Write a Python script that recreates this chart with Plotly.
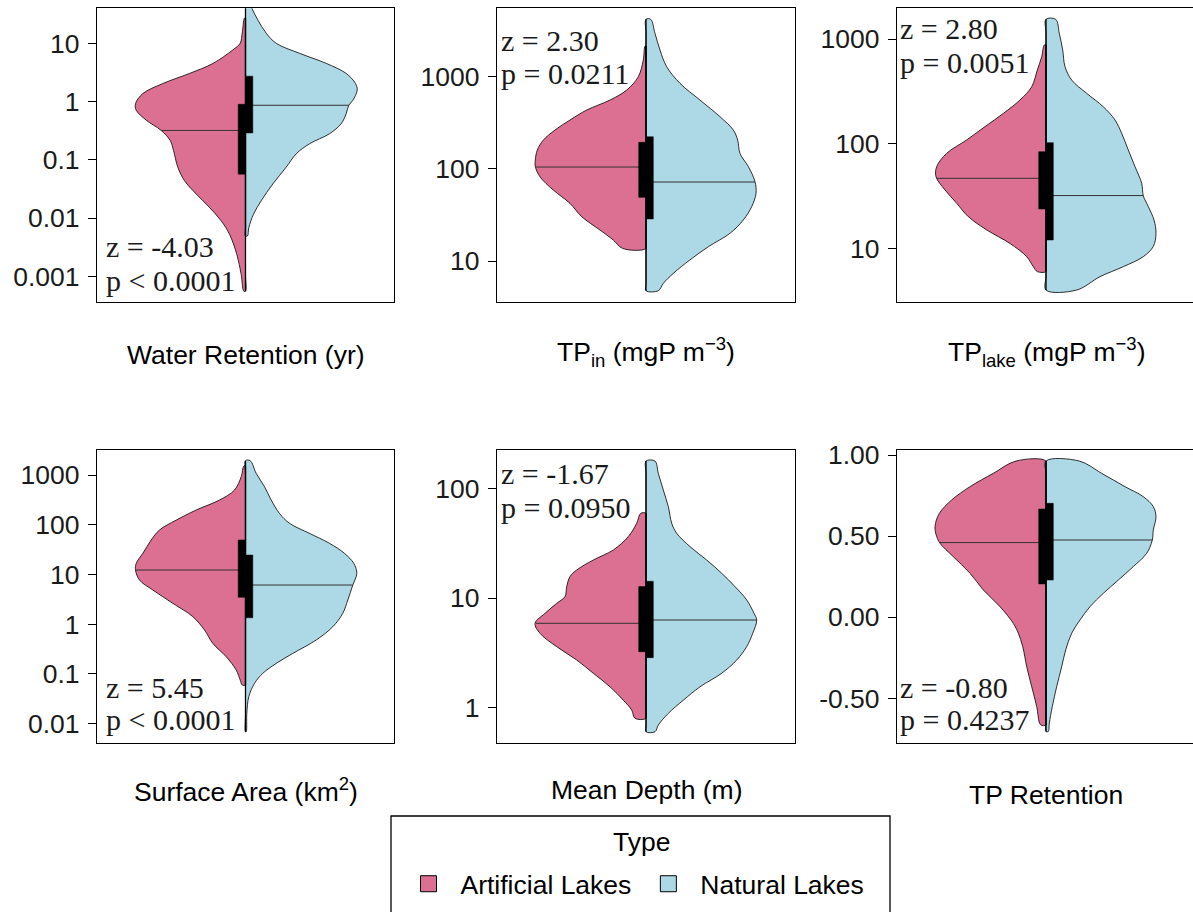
import plotly.graph_objects as go

# ------------------------------------------------------------------
# Data
# y = value along the violin outline (top -> bottom), w = half-width of
# the violin at that value (density, in plot x-units)
# ------------------------------------------------------------------
GROUPS = ["Artificial Lakes", "Natural Lakes"]
ART_COLOR = "#DB7093"
NAT_COLOR = "#ADD8E6"

# Water Retention (yr)
wr_art_y = [27.0, 14.9, 10, 7.7, 4.5, 3.04, 2.04, 1.37, 0.92, 0.71, 0.48, 0.32, 0.215, 0.145,
            0.075, 0.044, 0.026, 0.0153, 0.009, 0.0053, 0.0024, 0.00108, 0.00056]
wr_art_w = [0.01, 0.033, 0.053, 0.127, 0.327, 0.56, 0.827, 1.027, 1.10, 1.093, 0.993, 0.843, 0.753,
            0.72, 0.677, 0.61, 0.493, 0.36, 0.243, 0.16, 0.087, 0.043, 0.017]
wr_nat_y = [64, 40.1, 25.2, 14.9, 10, 6.73, 4.52, 3.04, 2.04, 1.57, 1.05, 0.865, 0.62, 0.418, 0.281,
            0.189, 0.127, 0.075, 0.0386, 0.0199, 0.0117, 0.0069, 0.00496]
wr_nat_w = [0.02, 0.063, 0.123, 0.207, 0.307, 0.54, 0.807, 1.007, 1.10, 1.117, 1.073, 1.033, 1.007,
            0.957, 0.84, 0.64, 0.507, 0.407, 0.273, 0.157, 0.08, 0.033, 0.02]
wr_median = [0.32, 0.865]
wr_median_w = [0.843, 1.033]
wr_q1 = [0.057, 0.29]
wr_q3 = [0.90, 2.73]

# TP in (mgP m-3)
tpin_art_y = [2150, 1516, 1000, 716, 558, 435, 339, 264, 205, 160, 125, 106, 82, 58.9, 42.2, 30.3,
              21.7, 16.9, 13.7]
tpin_art_w = [0.01, 0.027, 0.077, 0.193, 0.36, 0.593, 0.76, 0.91, 1.027, 1.087, 1.107, 1.107, 1.06,
              0.927, 0.76, 0.643, 0.46, 0.327, 0.233]
tpin_nat_y = [4190, 2950, 1945, 1283, 847, 558, 368, 264, 205, 147, 106, 72.6, 54.2, 38.9, 27.9, 20,
              14.3, 10.3, 7.35, 5.72, 4.77]
tpin_nat_w = [0.047, 0.09, 0.14, 0.207, 0.34, 0.54, 0.74, 0.873, 0.917, 0.94, 1.023, 1.09, 1.10,
              1.057, 0.973, 0.84, 0.623, 0.44, 0.273, 0.173, 0.123]
tpin_median = [104.7, 72.0]
tpin_median_w = [1.107, 1.09]
tpin_q1 = [49.1, 28.6]
tpin_q3 = [194, 223]

# TP lake (mgP m-3)
tplake_art_y = [877, 678, 506, 351, 262, 195, 146, 109, 81.2, 60.6, 48.6, 36.3, 27.1, 20.2, 15.1,
                11.2, 8.39, 6.73, 6.04]
tplake_art_w = [0.017, 0.043, 0.087, 0.143, 0.26, 0.427, 0.61, 0.793, 0.993, 1.093, 1.10, 1.01,
                0.893, 0.777, 0.593, 0.36, 0.193, 0.127, 0.087]
tplake_nat_y = [1541, 1132, 785, 545, 406, 303, 226, 169, 126, 87.3, 60.6, 42, 32, 25.2, 18.8, 14,
                10.5, 8.39, 6.73, 5.41, 4.03]
tplake_nat_w = [0.097, 0.133, 0.167, 0.19, 0.257, 0.407, 0.573, 0.69, 0.757, 0.823, 0.89, 0.957,
                0.973, 1.023, 1.08, 1.10, 1.073, 0.973, 0.773, 0.54, 0.307]
tplake_median = [46.9, 32.1]
tplake_median_w = [1.093, 0.973]
tplake_q1 = [23.9, 12.1]
tplake_q3 = [84.1, 102.6]

# Surface Area (km2)
sa_art_y = [1517, 925, 499, 314, 198, 124, 78.4, 49.3, 26.6, 16.7, 12.3, 7.74, 4.88, 2.63, 1.42,
            0.764, 0.412, 0.222, 0.12, 0.0755, 0.0599]
sa_art_w = [0.017, 0.043, 0.11, 0.26, 0.493, 0.693, 0.86, 0.943, 1.027, 1.093, 1.10, 1.06, 0.927,
            0.727, 0.527, 0.41, 0.327, 0.193, 0.093, 0.053, 0.033]
sa_nat_y = [1942, 1080, 583, 314, 169, 107, 67.1, 42.3, 26.6, 16.7, 10.5, 6.14, 3.07, 1.66, 0.892,
            0.481, 0.259, 0.163, 0.103, 0.0647, 0.0349, 0.0161, 0.0069]
sa_nat_w = [0.047, 0.107, 0.19, 0.257, 0.34, 0.44, 0.64, 0.84, 0.99, 1.083, 1.113, 1.073, 1.023,
            0.973, 0.873, 0.707, 0.473, 0.307, 0.173, 0.09, 0.033, 0.013, 0.007]
sa_median = [12.3, 6.14]
sa_median_w = [1.10, 1.073]
sa_q1 = [3.47, 1.35]
sa_q3 = [49.3, 24.6]

# Mean Depth (m)
md_art_y = [59.1, 48, 36.3, 27.4, 22.2, 18, 15.7, 12.7, 10.3, 8.94, 7.25, 5.88, 4.76, 3.6, 2.72,
            2.06, 1.55, 1.17, 0.952, 0.8]
md_art_w = [0.053, 0.093, 0.177, 0.327, 0.527, 0.693, 0.76, 0.793, 0.81, 0.893, 1.01, 1.11, 1.06,
            0.893, 0.693, 0.527, 0.36, 0.227, 0.143, 0.11]
md_nat_y = [177, 137, 96.6, 68.1, 48, 38.9, 29.4, 22.2, 16.8, 12.7, 9.6, 7.25, 6.3, 4.76, 3.6, 2.72,
            2.06, 1.55, 1.17, 0.888, 0.695, 0.604]
md_nat_w = [0.09, 0.123, 0.173, 0.223, 0.257, 0.307, 0.44, 0.607, 0.757, 0.89, 1.007, 1.08, 1.107,
            1.067, 1.007, 0.907, 0.757, 0.54, 0.373, 0.223, 0.123, 0.09]
md_median = [5.88, 6.3]
md_median_w = [1.10, 1.107]
md_q1 = [3.24, 2.86]
md_q3 = [12.7, 14.2]

# TP Retention
tpr_art_y = [0.963, 0.887, 0.805, 0.723, 0.640, 0.558, 0.497, 0.456, 0.373, 0.271, 0.168, 0.065,
             -0.038, -0.099, -0.181, -0.305, -0.428, -0.551, -0.664]
tpr_art_w = [0.30, 0.527, 0.76, 0.943, 1.067, 1.11, 1.093, 1.06, 0.927, 0.76, 0.627, 0.46, 0.327,
             0.277, 0.233, 0.193, 0.143, 0.093, 0.053]
tpr_nat_y = [0.963, 0.887, 0.805, 0.743, 0.682, 0.620, 0.538, 0.476, 0.394, 0.312, 0.229, 0.147,
             0.065, -0.017, -0.099, -0.202, -0.305, -0.428, -0.551, -0.654, -0.705]
tpr_nat_w = [0.333, 0.557, 0.79, 0.973, 1.073, 1.10, 1.073, 1.063, 1.007, 0.873, 0.723, 0.573, 0.44,
             0.34, 0.257, 0.197, 0.157, 0.107, 0.063, 0.033, 0.023]
tpr_median = [0.460, 0.476]
tpr_median_w = [1.06, 1.063]
tpr_q1 = [0.205, 0.229]
tpr_q3 = [0.667, 0.702]

# Test statistics
z_values = [-4.03, 2.30, 2.80, 5.45, -1.67, -0.80]
p_labels = ["p < 0.0001", "p = 0.0211", "p = 0.0051", "p < 0.0001", "p = 0.0950", "p = 0.4237"]

# Axis titles and ticks
panel_titles = ["Water Retention (yr)", "TP<sub>in</sub> (mgP m<sup>−3</sup>)",
                "TP<sub>lake</sub> (mgP m<sup>−3</sup>)", "Surface Area (km<sup>2</sup>)",
                "Mean Depth (m)", "TP Retention"]
wr_ticks = [0.001, 0.01, 0.1, 1, 10]
wr_ticktext = ["0.001", "0.01", "0.1", "1", "10"]
tp_ticks = [10, 100, 1000]
tp_ticktext = ["10", "100", "1000"]
sa_ticks = [0.01, 0.1, 1, 10, 100, 1000]
sa_ticktext = ["0.01", "0.1", "1", "10", "100", "1000"]
md_ticks = [1, 10, 100]
md_ticktext = ["1", "10", "100"]
tpr_ticks = [-0.5, 0.0, 0.5, 1.0]
tpr_ticktext = ["-0.50", "0.00", "0.50", "1.00"]
legend_title = "Type"

# ------------------------------------------------------------------
# Layout geometry (pixels of the 1193 x 912 page)
# ------------------------------------------------------------------
W, H = 1193, 912
col_px = [(97, 394), (497, 795), (897, 1193)]
col_center = [245.5, 646, 1046]
row_px = [(8.3, 301.7), (450, 742.7)]
UNIT = 100.0  # pixels per x-unit
SANS = "Liberation Sans, Arial, sans-serif"
SERIF = "Liberation Serif, Times New Roman, serif"
SANS_SIZE = 26.5
SERIF_SIZE = 30

panels = [
    dict(art=(wr_art_y, wr_art_w), nat=(wr_nat_y, wr_nat_w), med=wr_median, medw=wr_median_w,
         q1=wr_q1, q3=wr_q3, log=True, yrange=[-3.432, 1.600], tv=wr_ticks, tt=wr_ticktext),
    dict(art=(tpin_art_y, tpin_art_w), nat=(tpin_nat_y, tpin_nat_w), med=tpin_median,
         medw=tpin_median_w, q1=tpin_q1, q3=tpin_q3, log=True, yrange=[0.559, 3.742],
         tv=tp_ticks, tt=tp_ticktext),
    dict(art=(tplake_art_y, tplake_art_w), nat=(tplake_nat_y, tplake_nat_w), med=tplake_median,
         medw=tplake_median_w, q1=tplake_q1, q3=tplake_q3, log=True, yrange=[0.494, 3.293],
         tv=tp_ticks, tt=tp_ticktext),
    dict(art=(sa_art_y, sa_art_w), nat=(sa_nat_y, sa_nat_w), med=sa_median, medw=sa_median_w,
         q1=sa_q1, q3=sa_q3, log=True, yrange=[-2.382, 3.503], tv=sa_ticks, tt=sa_ticktext),
    dict(art=(md_art_y, md_art_w), nat=(md_nat_y, md_nat_w), med=md_median, medw=md_median_w,
         q1=md_q1, q3=md_q3, log=True, yrange=[-0.319, 2.349], tv=md_ticks, tt=md_ticktext),
    dict(art=(tpr_art_y, tpr_art_w), nat=(tpr_nat_y, tpr_nat_w), med=tpr_median,
         medw=tpr_median_w, q1=tpr_q1, q3=tpr_q3, log=False, yrange=[-0.774, 1.031],
         tv=tpr_ticks, tt=tpr_ticktext),
]

# text positions (pixels)
stat_x = [104, 499, 898, 104, 499, 898]
stat_zy = [247, 40, 28.5, 687, 473, 687]
stat_py = [280, 74, 62.5, 719, 508, 719]
title_y = [355, 352, 352, 790, 790, 795]

BOX_W = 0.073
fig = go.Figure()
annotations = []
shapes = []
layout_axes = {}


def px2paper_x(p):
    return p / W


def px2paper_y(p):
    return 1 - p / H


for i, pan in enumerate(panels):
    r, c = divmod(i, 3)
    k = "" if i == 0 else str(i + 1)
    xa, ya = "x" + k, "y" + k
    for g, (side, color, key) in enumerate([(-1, ART_COLOR, "art"), (1, NAT_COLOR, "nat")]):
        yv, wv = pan[key]
        xs = [0.0] + [side * v for v in wv] + [0.0] * len(yv)
        ys = [yv[0]] + list(yv) + list(reversed(yv))
        fig.add_trace(go.Scatter(
            x=xs, y=ys, mode="lines", fill="toself", fillcolor=color,
            line=dict(color="black", width=0.8, shape="spline", smoothing=1, simplify=False),
            hoverinfo="skip", showlegend=False, xaxis=xa, yaxis=ya, name=GROUPS[g]))
    for g, side in enumerate([-1, 1]):
        fig.add_trace(go.Scatter(
            x=[0, side * pan["medw"][g]], y=[pan["med"][g], pan["med"][g]], mode="lines",
            line=dict(color="#333333", width=1), hoverinfo="skip", showlegend=False,
            xaxis=xa, yaxis=ya))
    for g, side in enumerate([-1, 1]):
        q1, q3 = pan["q1"][g], pan["q3"][g]
        fig.add_trace(go.Scatter(
            x=[0, side * BOX_W, side * BOX_W, 0, 0], y=[q1, q1, q3, q3, q1], mode="lines",
            fill="toself", fillcolor="black", line=dict(color="black", width=0.5),
            hoverinfo="skip", showlegend=False, xaxis=xa, yaxis=ya))
    for g, key in enumerate(["art", "nat"]):
        yv = pan[key][0]
        fig.add_trace(go.Scatter(
            x=[0, 0], y=[yv[-1], yv[0]], mode="lines", line=dict(color="black", width=1.3),
            hoverinfo="skip", showlegend=False, xaxis=xa, yaxis=ya))

    x0p, x1p = col_px[c]
    y0p, y1p = row_px[r]
    cx = col_center[c]
    layout_axes["xaxis" + k] = dict(
        domain=[px2paper_x(x0p), min(1.0, px2paper_x(x1p))],
        range=[(x0p - cx) / UNIT, (x1p - cx) / UNIT],
        showline=True, mirror=True, linecolor="black", linewidth=1.3,
        showticklabels=False, ticks="", showgrid=False, zeroline=False,
        anchor=ya, fixedrange=True, automargin=False)
    layout_axes["yaxis" + k] = dict(
        domain=[px2paper_y(y1p), px2paper_y(y0p)],
        type="log" if pan["log"] else "linear", range=pan["yrange"],
        tickvals=pan["tv"], ticktext=pan["tt"],
        showline=True, mirror=(c < 2), linecolor="black", linewidth=1.3,
        ticks="outside", ticklen=8, tickwidth=1.3, tickcolor="black", ticklabelstandoff=3,
        tickfont=dict(family=SANS, size=SANS_SIZE, color="#1a1a1a"),
        showgrid=False, zeroline=False, anchor=xa, fixedrange=True, automargin=False)

    # statistics text
    annotations.append(dict(
        x=px2paper_x(stat_x[i]), y=px2paper_y(stat_zy[i]), xref="paper", yref="paper",
        text=f"z = {z_values[i]:.2f}", showarrow=False, xanchor="left", yanchor="middle",
        font=dict(family=SERIF, size=SERIF_SIZE, color="#1a1a1a")))
    annotations.append(dict(
        x=px2paper_x(stat_x[i]), y=px2paper_y(stat_py[i]), xref="paper", yref="paper",
        text=p_labels[i], showarrow=False, xanchor="left", yanchor="middle",
        font=dict(family=SERIF, size=SERIF_SIZE, color="#1a1a1a")))
    # axis title
    annotations.append(dict(
        x=px2paper_x(cx), y=px2paper_y(title_y[i]), xref="paper", yref="paper",
        text=panel_titles[i], showarrow=False, xanchor="center", yanchor="middle",
        font=dict(family=SANS, size=SANS_SIZE, color="black")))

# legend title
annotations.append(dict(
    x=px2paper_x(641), y=px2paper_y(842), xref="paper", yref="paper", text=legend_title,
    showarrow=False, xanchor="center", yanchor="middle",
    font=dict(family=SANS, size=SANS_SIZE, color="black")))

# legend entries
for name, color in zip(GROUPS, [ART_COLOR, NAT_COLOR]):
    fig.add_trace(go.Scatter(
        x=[None], y=[None], mode="markers", name=name,
        marker=dict(symbol="square", size=16, color=color, line=dict(color="black", width=1)),
        showlegend=True, xaxis="x", yaxis="y"))

# legend frame
shapes.append(dict(type="rect", xref="paper", yref="paper",
                   x0=px2paper_x(391), x1=px2paper_x(890), y0=px2paper_y(940), y1=px2paper_y(816),
                   line=dict(color="black", width=1.3), fillcolor="rgba(0,0,0,0)", layer="above"))

fig.update_layout(
    width=W, height=H, margin=dict(l=0, r=0, t=0, b=0, pad=0, autoexpand=False), autosize=False,
    paper_bgcolor="white", plot_bgcolor="white", template="none",
    annotations=annotations, shapes=shapes,
    showlegend=True,
    legend=dict(
        orientation="h", x=px2paper_x(633), xanchor="center", y=px2paper_y(884), yanchor="middle",
        font=dict(family=SANS, size=SANS_SIZE, color="black"),
        itemwidth=54, bgcolor="rgba(0,0,0,0)", borderwidth=0, itemclick=False,
        itemdoubleclick=False),
    **layout_axes,
)

fig.write_html("out.html")
